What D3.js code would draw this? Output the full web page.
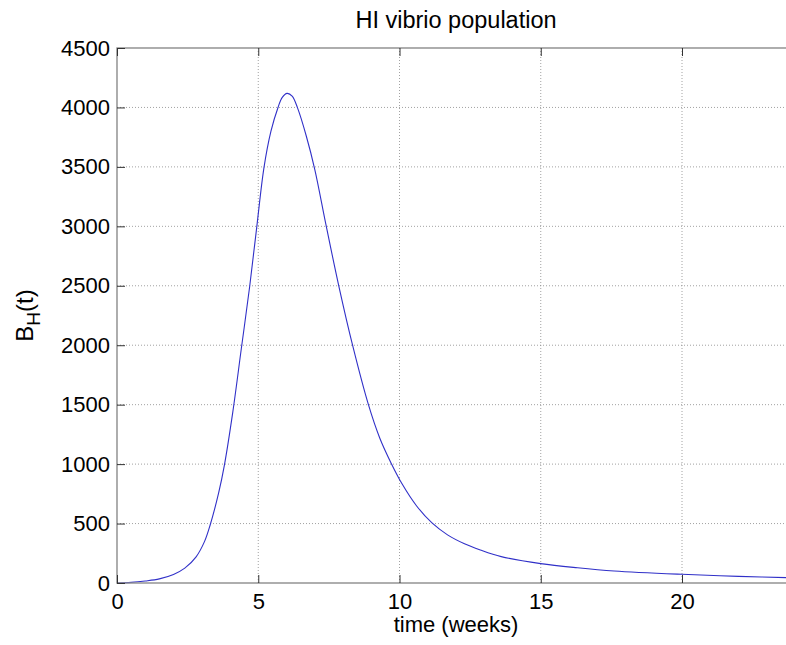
<!DOCTYPE html>
<html>
<head>
<meta charset="utf-8">
<script src="https://cdn.jsdelivr.net/npm/d3@7"></script>
<style>
  body { margin: 0; background: #fff; }
  svg { display: block; font-family: "Liberation Sans", Arial, Helvetica, sans-serif; }
  .grid line { stroke: #8a8a8a; stroke-width: 0.8; stroke-dasharray: 1,2; }
</style>
</head>
<body>
<div id="chart"></div>
<script>
// B_H(t)
var times  = [0, 0.5, 1.0, 1.5, 2.0, 2.4, 2.8, 3.1, 3.3, 3.6, 3.8, 4.1, 4.4, 4.7, 4.95,
              5.2, 5.45, 5.7, 5.85, 6.02, 6.2, 6.4, 6.7, 7.0, 7.4, 7.85, 8.35, 8.9, 9.3,
              9.7, 10.1, 10.6, 11.15, 11.7, 12.3, 12.86, 13.6, 15.0, 16.3, 17.6, 20.0, 22.0, 24.0];
var values = [0, 5, 17, 35, 72, 125, 220, 350, 490, 760, 990, 1440, 1970, 2500, 3000,
              3490, 3800, 4000, 4085, 4118, 4095, 3990, 3760, 3480, 3010, 2500, 1990, 1500, 1220,
              1010, 830, 650, 505, 405, 330, 278, 222, 163, 128, 101, 73, 56, 43];
var xTicks = [0, 5, 10, 15, 20];
var yTicks = [0, 500, 1000, 1500, 2000, 2500, 3000, 3500, 4000, 4500];

var width = 786, height = 645;
var margin = {top: 48, left: 117, bottom: 62};
var plotW = 678, plotH = height - margin.top - margin.bottom;

var svg = d3.select("#chart").append("svg")
    .attr("width", width)
    .attr("height", height);

var x = d3.scaleLinear().domain([0, 24]).range([margin.left, margin.left + plotW]);
var y = d3.scaleLinear().domain([0, 4500]).range([margin.top + plotH, margin.top]);

// grid
var grid = svg.append("g").attr("class", "grid");
grid.selectAll(".gx")
    .data(xTicks.slice(1))
  .enter().append("line")
    .attr("x1", d => x(d)).attr("x2", d => x(d))
    .attr("y1", y(0)).attr("y2", y(4500));
grid.selectAll(".gy")
    .data(yTicks.slice(1, -1))
  .enter().append("line")
    .attr("x1", x(0)).attr("x2", x(24))
    .attr("y1", d => y(d)).attr("y2", d => y(d));

// the curve
var line = d3.line()
    .x((d, i) => x(times[i]))
    .y(d => y(d))
    .curve(d3.curveCatmullRom.alpha(0.5));

svg.append("path")
    .datum(values)
    .attr("fill", "none")
    .attr("stroke", "#3030c8")
    .attr("stroke-width", 1.1)
    .attr("d", line);

// box
svg.append("rect")
    .attr("x", x(0)).attr("y", y(4500))
    .attr("width", x(24) - x(0)).attr("height", y(0) - y(4500))
    .attr("fill", "none")
    .attr("stroke", "#8c8c8c")
    .attr("stroke-width", 1.4);

function styleAxis(g) {
  g.select(".domain").remove();
  g.selectAll(".tick line").attr("stroke", "#333").attr("stroke-width", 1);
  g.selectAll(".tick text").attr("fill", "#000").style("font-size", "22px");
}

svg.append("g")
    .attr("transform", "translate(0," + y(0) + ")")
    .call(d3.axisBottom(x).tickValues(xTicks).tickSize(-8).tickPadding(10).tickFormat(d3.format("d")))
    .call(styleAxis);

svg.append("g")
    .attr("transform", "translate(0," + y(4500) + ")")
    .call(d3.axisTop(x).tickValues(xTicks).tickSize(-8).tickFormat(""))
    .call(styleAxis);

svg.append("g")
    .attr("transform", "translate(" + x(0) + ",0)")
    .call(d3.axisLeft(y).tickValues(yTicks).tickSize(-8).tickPadding(7).tickFormat(d3.format("d")))
    .call(styleAxis);

// title and labels
svg.append("text")
    .attr("x", (x(0) + x(24)) / 2)
    .attr("y", 28)
    .attr("text-anchor", "middle")
    .style("font-size", "23.5px")
    .text("HI vibrio population");

svg.append("text")
    .attr("x", (x(0) + x(24)) / 2)
    .attr("y", 632)
    .attr("text-anchor", "middle")
    .style("font-size", "22px")
    .text("time (weeks)");

var yl = svg.append("text")
    .attr("transform", "translate(33," + (margin.top + plotH / 2) + ") rotate(-90)")
    .attr("text-anchor", "middle")
    .style("font-size", "24px");
yl.append("tspan").text("B");
yl.append("tspan").attr("dy", 7).style("font-size", "19px").text("H");
yl.append("tspan").attr("dy", -7).text("(t)");
</script>
</body>
</html>
